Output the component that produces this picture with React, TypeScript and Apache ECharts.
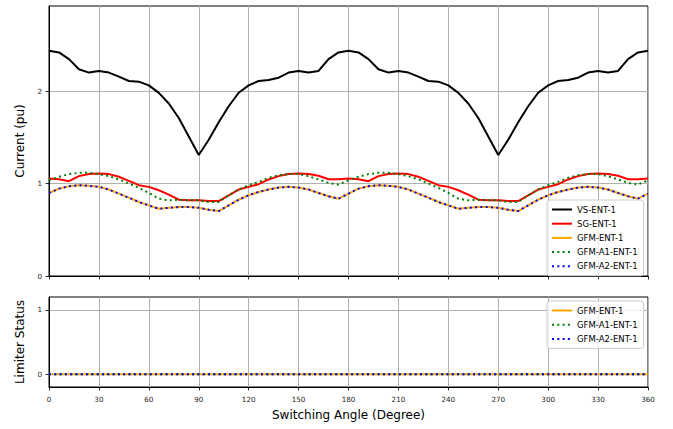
import React, { useEffect, useRef } from "react";
import * as echarts from "echarts";

const angles = [
  0, 6, 12, 18, 24, 30, 36, 42, 48, 54, 60, 66, 72, 78, 84, 90, 96, 102, 108, 114, 120,
  126, 132, 138, 144, 150, 156, 162, 168, 174, 180, 186, 192, 198, 204, 210, 216, 222,
  228, 234, 240, 246, 252, 258, 264, 270, 276, 282, 288, 294, 300, 306, 312, 318, 324,
  330, 336, 342, 348, 354, 360,
];

const vsEnt = [
  2.436, 2.418, 2.345, 2.236, 2.2, 2.218, 2.2, 2.156, 2.109, 2.102, 2.062, 1.98, 1.865,
  1.709, 1.509, 1.309, 1.473, 1.662, 1.836, 1.982, 2.062, 2.109, 2.12, 2.145, 2.2, 2.218,
  2.2, 2.218, 2.345, 2.418, 2.436,
  2.418, 2.345, 2.236, 2.2, 2.218, 2.2, 2.156, 2.109, 2.102, 2.062, 1.98, 1.865,
  1.709, 1.509, 1.309, 1.473, 1.662, 1.836, 1.982, 2.062, 2.109, 2.12, 2.145, 2.2, 2.218,
  2.2, 2.218, 2.345, 2.418, 2.436,
];

const sgEnt = [
  1.055, 1.047, 1.025, 1.08, 1.102, 1.109, 1.102, 1.073, 1.029, 0.982, 0.964, 0.927, 0.88,
  0.825, 0.818, 0.818, 0.811, 0.811, 0.873, 0.935, 0.964, 0.993, 1.044, 1.08, 1.102, 1.109,
  1.102, 1.084, 1.047, 1.047, 1.055,
  1.047, 1.025, 1.08, 1.102, 1.109, 1.102, 1.073, 1.029, 0.982, 0.964, 0.927, 0.88,
  0.825, 0.818, 0.818, 0.811, 0.811, 0.873, 0.935, 0.964, 0.993, 1.044, 1.08, 1.102, 1.109,
  1.102, 1.084, 1.047, 1.047, 1.055,
];

const gfmEnt = [
  0.898, 0.945, 0.971, 0.982, 0.975, 0.964, 0.935, 0.891, 0.847, 0.8, 0.764, 0.727, 0.738,
  0.745, 0.745, 0.738, 0.716, 0.702, 0.764, 0.825, 0.873, 0.909, 0.935, 0.956, 0.964, 0.956,
  0.935, 0.898, 0.862, 0.836, 0.891,
  0.945, 0.971, 0.982, 0.975, 0.964, 0.935, 0.891, 0.847, 0.8, 0.764, 0.727, 0.738,
  0.745, 0.745, 0.738, 0.716, 0.702, 0.764, 0.825, 0.873, 0.909, 0.935, 0.956, 0.964, 0.956,
  0.935, 0.898, 0.862, 0.836, 0.891,
];

const gfmA1Ent = [
  1.036, 1.073, 1.102, 1.116, 1.116, 1.102, 1.08, 1.044, 1.0, 0.953, 0.898, 0.836, 0.818,
  0.825, 0.818, 0.818, 0.8, 0.8, 0.873, 0.935, 0.982, 1.018, 1.062, 1.091, 1.102, 1.102,
  1.08, 1.044, 1.007, 0.989, 1.036,
  1.073, 1.102, 1.116, 1.116, 1.102, 1.08, 1.044, 1.0, 0.953, 0.898, 0.836, 0.818,
  0.825, 0.818, 0.818, 0.8, 0.8, 0.873, 0.935, 0.982, 1.018, 1.062, 1.091, 1.102, 1.102,
  1.08, 1.044, 1.007, 0.989, 1.036,
];

const gfmA2Ent = [
  0.898, 0.945, 0.971, 0.982, 0.975, 0.964, 0.935, 0.891, 0.847, 0.8, 0.764, 0.727, 0.738,
  0.745, 0.745, 0.738, 0.716, 0.702, 0.764, 0.825, 0.873, 0.909, 0.935, 0.956, 0.964, 0.956,
  0.935, 0.898, 0.862, 0.836, 0.891,
  0.945, 0.971, 0.982, 0.975, 0.964, 0.935, 0.891, 0.847, 0.8, 0.764, 0.727, 0.738,
  0.745, 0.745, 0.738, 0.716, 0.702, 0.764, 0.825, 0.873, 0.909, 0.935, 0.956, 0.964, 0.956,
  0.935, 0.898, 0.862, 0.836, 0.891,
];

const limGfm = [
  0, 0, 0, 0, 0, 0, 0, 0, 0, 0, 0, 0, 0, 0, 0, 0, 0, 0, 0, 0, 0, 0, 0, 0, 0, 0, 0, 0, 0, 0, 0,
  0, 0, 0, 0, 0, 0, 0, 0, 0, 0, 0, 0, 0, 0, 0, 0, 0, 0, 0, 0, 0, 0, 0, 0, 0, 0, 0, 0, 0, 0,
];
const limGfmA1 = [
  0, 0, 0, 0, 0, 0, 0, 0, 0, 0, 0, 0, 0, 0, 0, 0, 0, 0, 0, 0, 0, 0, 0, 0, 0, 0, 0, 0, 0, 0, 0,
  0, 0, 0, 0, 0, 0, 0, 0, 0, 0, 0, 0, 0, 0, 0, 0, 0, 0, 0, 0, 0, 0, 0, 0, 0, 0, 0, 0, 0, 0,
];
const limGfmA2 = [
  0, 0, 0, 0, 0, 0, 0, 0, 0, 0, 0, 0, 0, 0, 0, 0, 0, 0, 0, 0, 0, 0, 0, 0, 0, 0, 0, 0, 0, 0, 0,
  0, 0, 0, 0, 0, 0, 0, 0, 0, 0, 0, 0, 0, 0, 0, 0, 0, 0, 0, 0, 0, 0, 0, 0, 0, 0, 0, 0, 0, 0,
];

const xTicks = [0, 30, 60, 90, 120, 150, 180, 210, 240, 270, 300, 330, 360];
const topYTicks = [0, 1, 2];
const bottomYTicks = [0, 1];

const FONT = "DejaVu Sans";
const DOT: number[] = [2, 3.3];

const pair = (ys: number[]) => angles.map((a, i) => [a, ys[i]]);

export default function App() {
  const ref = useRef<HTMLDivElement>(null);
  useEffect(() => {
    if (!ref.current) return;
    const chart = echarts.init(ref.current, null, { renderer: "svg" });
    const gridLine = { show: true, lineStyle: { color: "#b0b0b0", width: 1 } };
    const tick = { show: true, length: 3.5, lineStyle: { color: "#000", width: 0.8 } };
    const axisLine = { show: true, onZero: false, lineStyle: { color: "#000", width: 1 } };
    const tickLabel = { fontFamily: FONT, fontSize: 7.2, color: "#222" };
    const line = (name: string, data: number[], color: string, dotted: boolean, gi: number) => ({
      type: "line",
      name,
      data: pair(data),
      xAxisIndex: gi,
      yAxisIndex: gi,
      symbol: "none",
      lineStyle: { color, width: 2, type: dotted ? DOT : "solid", cap: "butt" },
      itemStyle: { color },
      z: 3,
    });
    const legendBase = {
      orient: "vertical",
      itemWidth: 20,
      itemHeight: 8,
      itemGap: 5.2,
      itemStyle: { color: "rgba(0,0,0,0)", borderWidth: 0, opacity: 0 },
      textStyle: { fontFamily: FONT, fontSize: 8.5, color: "#000" },
      backgroundColor: "rgba(255,255,255,0.8)",
      borderColor: "#cccccc",
      borderWidth: 1,
      borderRadius: 3,
      padding: [5, 6, 5, 4],
      selectedMode: false,
    };
    chart.setOption({
      animation: false,
      grid: [
        { left: 49, top: 6, width: 599, height: 270, show: true, borderColor: "#000", borderWidth: 1, backgroundColor: "transparent" },
        { left: 49, top: 297, width: 599, height: 90, show: true, borderColor: "#000", borderWidth: 1, backgroundColor: "transparent" },
      ],
      xAxis: [
        {
          type: "value", gridIndex: 0, min: 0, max: 360, interval: 30,
          axisLine, axisTick: tick, axisLabel: { show: false }, splitLine: gridLine,
        },
        {
          type: "value", gridIndex: 1, min: 0, max: 360, interval: 30,
          axisLine, axisTick: tick,
          axisLabel: { ...tickLabel, margin: 9, customValues: xTicks },
          splitLine: gridLine,
          name: "Switching Angle (Degree)", nameLocation: "middle", nameGap: 22,
          nameTextStyle: { fontFamily: FONT, fontSize: 12, color: "#000" },
        },
      ],
      yAxis: [
        {
          type: "value", gridIndex: 0, min: 0, max: 2.92,
          axisLine, axisTick: { ...tick, customValues: topYTicks },
          axisLabel: { ...tickLabel, margin: 7, customValues: topYTicks },
          splitLine: gridLine,
          name: "Current (pu)", nameLocation: "middle", nameGap: 23,
          nameTextStyle: { fontFamily: FONT, fontSize: 12, color: "#000" },
        },
        {
          type: "value", gridIndex: 1, min: -0.2, max: 1.2,
          axisLine, axisTick: { ...tick, customValues: bottomYTicks },
          axisLabel: { ...tickLabel, margin: 7, customValues: bottomYTicks },
          splitLine: gridLine,
          name: "Limiter Status", nameLocation: "middle", nameGap: 23,
          nameTextStyle: { fontFamily: FONT, fontSize: 12, color: "#000" },
        },
      ],
      legend: [
        {
          ...legendBase, left: 547, top: 200,
          data: ["VS-ENT-1", "SG-ENT-1", "GFM-ENT-1", "GFM-A1-ENT-1", "GFM-A2-ENT-1"],
        },
        {
          ...legendBase, left: 547, top: 301,
          data: ["GFM-ENT-1", "GFM-A1-ENT-1", "GFM-A2-ENT-1"],
        },
      ],
      series: [
        line("VS-ENT-1", vsEnt, "#000000", false, 0),
        line("SG-ENT-1", sgEnt, "#ff0000", false, 0),
        line("GFM-ENT-1", gfmEnt, "#ffa500", false, 0),
        line("GFM-A1-ENT-1", gfmA1Ent, "#008000", true, 0),
        line("GFM-A2-ENT-1", gfmA2Ent, "#0000ff", true, 0),
        line("GFM-ENT-1", limGfm, "#ffa500", false, 1),
        line("GFM-A1-ENT-1", limGfmA1, "#008000", true, 1),
        line("GFM-A2-ENT-1", limGfmA2, "#0000ff", true, 1),
      ],
    });
    return () => chart.dispose();
  }, []);
  return (
    <div
      ref={ref}
      style={{ position: "fixed", left: 0, top: 0, width: 673, height: 429, background: "#fff" }}
    />
  );
}
